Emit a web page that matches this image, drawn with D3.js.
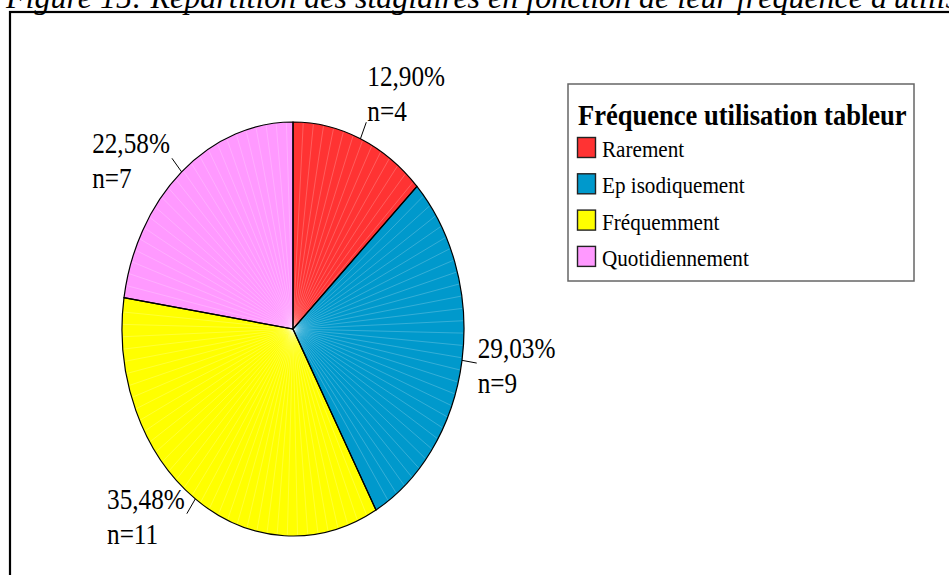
<!DOCTYPE html>
<html>
  <head>
    <meta charset="utf-8">
    <script type="text/javascript" src="https://d3js.org/d3.v7.min.js"></script>
    <style>
      body {
        margin: 0;
        background: #fff;
        overflow: hidden;
      }
      .serif {
        font-family: 'Liberation Serif', 'Times New Roman', serif;
        fill: #000;
      }
      .slice {
        stroke: #000;
        stroke-width: 1.2;
        vector-effect: non-scaling-stroke;
      }
      .streak {
        stroke: #fff;
        stroke-opacity: 0.35;
        stroke-width: 0.6;
        vector-effect: non-scaling-stroke;
      }
      .leader {
        stroke: #000;
        stroke-width: 1;
      }
    </style>
  </head>
  <body>
    <svg id="chart" width="949" height="575"></svg>

    <script type="text/javascript">
      // data
      var categories = ['Rarement', 'Ep isodiquement', 'Fréquemment', 'Quotidiennement'];
      var counts = [4, 9, 11, 7];
      var colours = ['#ff3333', '#0099cc', '#ffff00', '#ff99ff'];
      var legendTitle = 'Fréquence utilisation tableur';
      var figTitle = "Figure 15: Répartition des stagiaires en fonction de leur fréquence d'utilisation du tableur";

      var svg = d3.select('#chart');
      var total = d3.sum(counts);
      var fr = d3.formatLocale({ decimal: ',', thousands: ' ', grouping: [3], currency: ['', '€'] });
      var pct = fr.format('.2f');

      // figure title, cut by the top of the page
      svg.append('text')
        .attr('class', 'serif')
        .attr('x', 6)
        .attr('y', 8)
        .style('font-style', 'italic')
        .style('font-size', '32px')
        .text(figTitle);

      // outer frame (runs off the right and bottom)
      svg.append('rect')
        .attr('x', 10)
        .attr('y', 12)
        .attr('width', 1000)
        .attr('height', 700)
        .attr('fill', 'none')
        .attr('stroke', '#000')
        .attr('stroke-width', 2.2);

      // pie: a circle squashed horizontally
      var cx = 293, cy = 329, r = 207, sx = 0.826;
      var pie = d3.pie().sort(null).value(function (d) { return d; });
      var arcs = pie(counts);
      var arc = d3.arc().innerRadius(0).outerRadius(r);

      var pieG = svg.append('g')
        .attr('transform', 'translate(' + cx + ',' + cy + ') scale(' + sx + ',1)');

      pieG.selectAll('path.fill')
        .data(arcs)
        .enter()
        .append('path')
        .attr('d', arc)
        .attr('fill', function (d, i) { return colours[i]; });

      // faint light streaks seen inside the slices
      var streaks = [];
      arcs.forEach(function (d) {
        var step = 0.06;
        for (var a = d.startAngle + step; a < d.endAngle - step / 2; a += step) {
          streaks.push(a);
        }
      });
      pieG.selectAll('line.streak')
        .data(streaks)
        .enter()
        .append('line')
        .attr('class', 'streak')
        .attr('x1', 0)
        .attr('y1', 0)
        .attr('x2', function (a) { return (r - 1) * Math.sin(a); })
        .attr('y2', function (a) { return -(r - 1) * Math.cos(a); });

      pieG.selectAll('path.slice')
        .data(arcs)
        .enter()
        .append('path')
        .attr('class', 'slice')
        .attr('d', arc)
        .attr('fill', 'none');

      // leader lines and labels
      var fontLab = 29, sxLab = 0.87, lineGap = 35;
      arcs.forEach(function (d, i) {
        var a = (d.startAngle + d.endAngle) / 2;
        var x1 = cx + sx * r * Math.sin(a), y1 = cy - r * Math.cos(a);
        var x2 = cx + sx * (r + 18) * Math.sin(a), y2 = cy - (r + 18) * Math.cos(a);
        svg.append('line')
          .attr('class', 'leader')
          .attr('x1', x1).attr('y1', y1)
          .attr('x2', x2).attr('y2', y2);

        var lines = [pct(100 * d.value / total) + '%', 'n=' + d.value];
        var lab = svg.append('g');
        var texts = lines.map(function (s) {
          return lab.append('text')
            .attr('class', 'serif')
            .style('font-size', fontLab + 'px')
            .text(s);
        });
        var w = texts[0].node().getComputedTextLength() * sxLab;
        var left = Math.sin(a) < 0;
        var tx = left ? x2 - w - 2 : x2 + 1;
        var base = Math.cos(a) > 0.85 ? y2 - 1 - lineGap : y2 - 5;
        texts.forEach(function (t, k) {
          t.attr('transform', 'translate(' + tx + ',' + (base + k * lineGap) + ') scale(' + sxLab + ',1)');
        });
      });

      // legend
      var lg = svg.append('g');
      lg.append('rect')
        .attr('x', 568)
        .attr('y', 84)
        .attr('width', 346)
        .attr('height', 197)
        .attr('fill', '#fff')
        .attr('stroke', '#666')
        .attr('stroke-width', 1.5);
      lg.append('text')
        .attr('class', 'serif')
        .attr('transform', 'translate(578,125) scale(0.915,1)')
        .style('font-size', '29px')
        .style('font-weight', 'bold')
        .text(legendTitle);

      var item = lg.selectAll('g.item')
        .data(categories)
        .enter()
        .append('g')
        .attr('transform', function (d, i) { return 'translate(0,' + (i * 36.3) + ')'; });
      item.append('rect')
        .attr('x', 577.5)
        .attr('y', 137.5)
        .attr('width', 18)
        .attr('height', 20)
        .attr('fill', function (d, i) { return colours[i]; })
        .attr('stroke', '#222')
        .attr('stroke-width', 1.4);
      item.append('text')
        .attr('class', 'serif')
        .attr('transform', 'translate(602,157) scale(0.9,1)')
        .style('font-size', '23.5px')
        .text(function (d) { return d; });
    </script>
  </body>
</html>
